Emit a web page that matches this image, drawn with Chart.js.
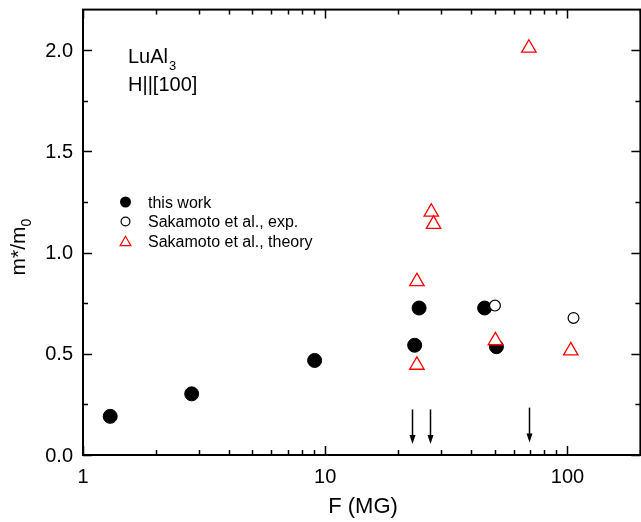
<!DOCTYPE html>
<html><head><meta charset="utf-8">
<script src="https://cdn.jsdelivr.net/npm/chart.js@4/dist/chart.umd.min.js"></script>
<style>html,body{margin:0;padding:0;overflow:hidden;background:#fff}</style>
</head><body>
<div style="width:650px;height:522px"><canvas id="c" width="650" height="522"></canvas></div>
<script>
// ---- data ----
const thisWorkF = [1.295, 2.81, 9.04, 23.4, 24.4, 45.5, 50.9];
const thisWorkM = [0.191, 0.302, 0.467, 0.542, 0.726, 0.726, 0.535];
const expF = [50.2, 105.9];
const expM = [0.738, 0.677];
const theoryF = [69.3, 27.4, 28.0, 23.9, 23.9, 50.4, 103.2];
const theoryM = [2.01, 1.20, 1.14, 0.857, 0.444, 0.565, 0.515];
const arrowF = [22.9, 27.1, 69.3];
const arrowTop = [0.225, 0.225, 0.234];
const arrowTip = [0.054, 0.054, 0.062];
const xTickValues = [1, 10, 100];
const xTickLabels = ['1', '10', '100'];
const yTickValues = [0, 0.5, 1.0, 1.5, 2.0];
const yTickLabels = ['0.0', '0.5', '1.0', '1.5', '2.0'];
const legendLabels = ['this work', 'Sakamoto et al., exp.', 'Sakamoto et al., theory'];

const FONT = "'Liberation Sans', Arial, sans-serif";
const toPts = (xs, ys) => xs.map((x, i) => ({x: x, y: ys[i]}));

const decorPlugin = {
  id: 'decor',
  afterDraw(chart) {
    const ctx = chart.ctx, a = chart.chartArea;
    const xs = chart.scales.x, ys = chart.scales.y;
    ctx.save();
    ctx.strokeStyle = '#000'; ctx.fillStyle = '#000';
    // frame
    ctx.lineWidth = 2;
    ctx.strokeRect(a.left, a.top, a.right - a.left, a.bottom - a.top);
    // x ticks (inward, bottom and top)
    ctx.lineWidth = 1.5;
    for (let d = 1; d <= 100; d *= 10) {
      for (let k = 1; k <= 9; k++) {
        const v = d * k;
        if (v > xs.max) continue;
        const px = Math.round(xs.getPixelForValue(v)) + 0.5;
        const len = k === 1 ? 9 : 5;
        ctx.beginPath();
        ctx.moveTo(px, a.bottom); ctx.lineTo(px, a.bottom - len);
        ctx.moveTo(px, a.top); ctx.lineTo(px, a.top + len);
        ctx.stroke();
      }
    }
    // y ticks
    for (let v = 0; v <= 2.2001; v += 0.25) {
      const py = Math.round(ys.getPixelForValue(v)) + 0.5;
      const major = Math.abs(v / 0.5 - Math.round(v / 0.5)) < 1e-6;
      const len = major ? 9 : 5;
      ctx.beginPath();
      ctx.moveTo(a.left, py); ctx.lineTo(a.left + len, py);
      ctx.moveTo(a.right, py); ctx.lineTo(a.right - len, py);
      ctx.stroke();
    }
    // tick labels
    ctx.font = '20px ' + FONT;
    ctx.textAlign = 'center'; ctx.textBaseline = 'alphabetic';
    xTickValues.forEach((v, i) => ctx.fillText(xTickLabels[i], xs.getPixelForValue(v), 483));
    ctx.textAlign = 'right'; ctx.textBaseline = 'middle';
    yTickValues.forEach((v, i) => ctx.fillText(yTickLabels[i], 73, ys.getPixelForValue(v) + 1));
    // axis titles
    ctx.font = '22px ' + FONT;
    ctx.textAlign = 'center'; ctx.textBaseline = 'alphabetic';
    ctx.fillText('F (MG)', (a.left + 641) / 2 + 1, 513);
    ctx.save();
    const main = 'm*/m';
    ctx.font = '21px ' + FONT;
    const w1 = ctx.measureText(main).width;
    ctx.font = '14px ' + FONT;
    const w2 = ctx.measureText('0').width;
    ctx.translate(25, 247 + (w1 + w2) / 2);
    ctx.rotate(-Math.PI / 2);
    ctx.textAlign = 'left';
    ctx.font = '21px ' + FONT;
    ctx.fillText(main, 0, 0);
    ctx.font = '14px ' + FONT;
    ctx.fillText('0', w1, 6);
    ctx.restore();
    // annotation
    ctx.textAlign = 'left'; ctx.textBaseline = 'alphabetic';
    ctx.font = '20px ' + FONT;
    ctx.fillText('LuAl', 128, 63);
    const wl = ctx.measureText('LuAl').width;
    ctx.font = '13px ' + FONT;
    ctx.fillText('3', 128 + wl + 1, 70);
    ctx.font = '20px ' + FONT;
    ctx.fillText('H||[100]', 128, 91);
    // arrows
    ctx.lineWidth = 1.5;
    arrowF.forEach((f, i) => {
      const px = Math.round(xs.getPixelForValue(f)) + 0.5;
      const y0 = ys.getPixelForValue(arrowTop[i]);
      const y1 = ys.getPixelForValue(arrowTip[i]);
      ctx.beginPath(); ctx.moveTo(px, y0); ctx.lineTo(px, y1 - 6); ctx.stroke();
      ctx.beginPath();
      ctx.moveTo(px, y1); ctx.lineTo(px - 3, y1 - 9); ctx.lineTo(px + 3, y1 - 9); ctx.closePath();
      ctx.fill();
    });
    // legend
    const lx = 125.5, tx = 148, rows = [202, 221.5, 241];
    ctx.font = '16px ' + FONT;
    ctx.textAlign = 'left'; ctx.textBaseline = 'alphabetic';
    // filled circle
    ctx.beginPath(); ctx.arc(lx, rows[0], 5.5, 0, Math.PI * 2); ctx.fill();
    // open circle
    ctx.lineWidth = 1.2;
    ctx.beginPath(); ctx.arc(lx, rows[1], 4.4, 0, Math.PI * 2); ctx.stroke();
    // triangle
    ctx.strokeStyle = '#ff0000';
    const r = 6.2;
    ctx.beginPath();
    for (let k = 0; k < 3; k++) {
      const ang = k * 2 * Math.PI / 3;
      const px = lx + Math.sin(ang) * r, py = rows[2] + 1.5 - Math.cos(ang) * r;
      if (k === 0) ctx.moveTo(px, py); else ctx.lineTo(px, py);
    }
    ctx.closePath(); ctx.stroke();
    ctx.fillStyle = '#000';
    legendLabels.forEach((t, i) => ctx.fillText(t, tx, rows[i] + 5.5));
    ctx.restore();
  }
};

new Chart(document.getElementById('c'), {
  type: 'scatter',
  data: {
    datasets: [
      {label: legendLabels[2], data: toPts(theoryF, theoryM), order: 1,
       pointStyle: 'triangle', pointRadius: 8.3, pointHoverRadius: 8.3,
       backgroundColor: '#ffffff', borderColor: '#ff0000', borderWidth: 1.3},
      {label: legendLabels[1], data: toPts(expF, expM), order: 2,
       pointStyle: 'circle', pointRadius: 5.4, pointHoverRadius: 5.4,
       backgroundColor: '#ffffff', borderColor: '#000000', borderWidth: 1.2},
      {label: legendLabels[0], data: toPts(thisWorkF, thisWorkM), order: 3,
       pointStyle: 'circle', pointRadius: 7, pointHoverRadius: 7,
       backgroundColor: '#000000', borderColor: '#000000', borderWidth: 1}
    ]
  },
  options: {
    responsive: false, animation: false, devicePixelRatio: 1,
    layout: {padding: {left: 83, top: 6, right: 8, bottom: 67}},
    plugins: {legend: {display: false}, tooltip: {enabled: false}},
    events: [],
    scales: {
      x: {type: 'logarithmic', min: 1, max: 200, display: false},
      y: {type: 'linear', min: 0, max: 2.2, display: false}
    }
  },
  plugins: [decorPlugin]
});
</script>
</body></html>
